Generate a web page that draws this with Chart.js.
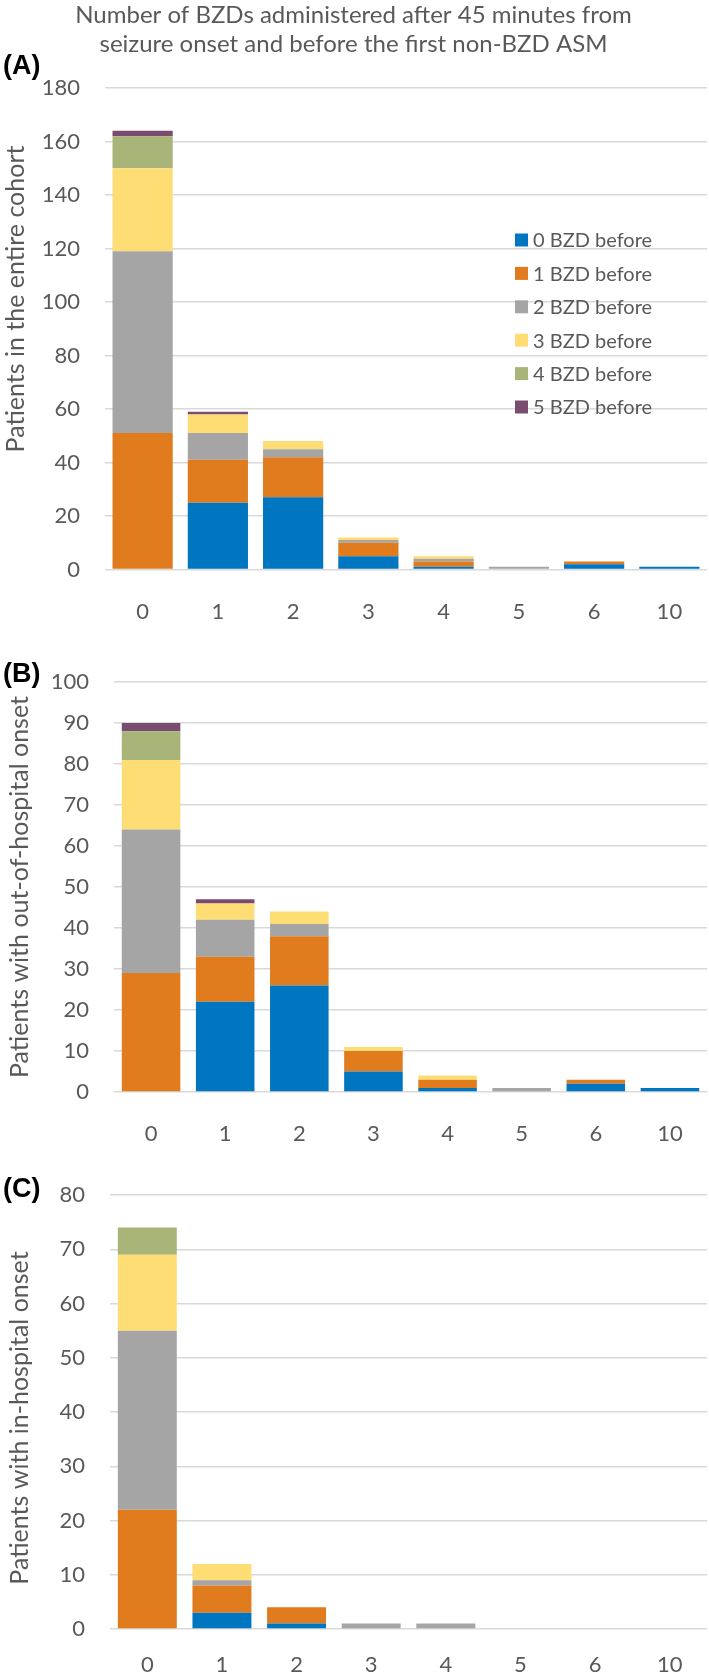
<!DOCTYPE html>
<html>
<head>
<meta charset="utf-8">
<script src="https://cdn.jsdelivr.net/npm/chart.js@4.4.1/dist/chart.umd.min.js"></script>
<style>
  html, body { margin: 0; padding: 0; background: #fff; }
  #page { position: relative; width: 709px; height: 1675px; overflow: hidden; }
  canvas { position: absolute; left: 0; }
  .tag { position: absolute; left: 3px; font: bold 27px "Liberation Sans", Arial, sans-serif; color: #000; line-height: 30px; }
</style>
</head>
<body>
<div id="page">
  <canvas id="chartA" width="709" height="630" style="top:0px"></canvas>
  <canvas id="chartB" width="709" height="505" style="top:640px"></canvas>
  <canvas id="chartC" width="709" height="525" style="top:1150px"></canvas>
  <div class="tag" style="top:50px">(A)</div>
  <div class="tag" style="top:658px">(B)</div>
  <div class="tag" style="top:1173px">(C)</div>
</div>
<script>
// x categories: number of BZDs given after 45 min
const categories = ['0', '1', '2', '3', '4', '5', '6', '10'];
const seriesNames = ['0 BZD before', '1 BZD before', '2 BZD before', '3 BZD before', '4 BZD before', '5 BZD before'];
const seriesColors = ['#0075C0', '#E07B1E', '#A5A5A5', '#FFDD75', '#A9B479', '#7A4D70'];

// (A) entire cohort
const entire0 = [0, 25, 27, 5, 1, 0, 2, 1];
const entire1 = [51, 16, 15, 5, 2, 0, 1, 0];
const entire2 = [68, 10, 3, 1, 1, 1, 0, 0];
const entire3 = [31, 7, 3, 1, 1, 0, 0, 0];
const entire4 = [12, 0, 0, 0, 0, 0, 0, 0];
const entire5 = [2, 1, 0, 0, 0, 0, 0, 0];

// (B) out-of-hospital onset
const outHosp0 = [0, 22, 26, 5, 1, 0, 2, 1];
const outHosp1 = [29, 11, 12, 5, 2, 0, 1, 0];
const outHosp2 = [35, 9, 3, 0, 0, 1, 0, 0];
const outHosp3 = [17, 4, 3, 1, 1, 0, 0, 0];
const outHosp4 = [7, 0, 0, 0, 0, 0, 0, 0];
const outHosp5 = [2, 1, 0, 0, 0, 0, 0, 0];

// (C) in-hospital onset
const inHosp0 = [0, 3, 1, 0, 0, 0, 0, 0];
const inHosp1 = [22, 5, 3, 0, 0, 0, 0, 0];
const inHosp2 = [33, 1, 0, 1, 1, 0, 0, 0];
const inHosp3 = [14, 3, 0, 0, 0, 0, 0, 0];
const inHosp4 = [5, 0, 0, 0, 0, 0, 0, 0];
const inHosp5 = [0, 0, 0, 0, 0, 0, 0, 0];

const titleLines = ['Number of BZDs administered after 45 minutes from', 'seizure onset and before the first non-BZD ASM'];

const FONT = 'Lato, "Open Sans", sans-serif';
const TEXT = '#595959';
const GRID = '#D9D9D9';

// rotated y-axis title, placed like the original
function yTitlePlugin(text, cx, cy) {
  return {
    id: 'yTitle',
    afterDraw(chart) {
      const ctx = chart.ctx;
      ctx.save();
      ctx.translate(cx, cy);
      ctx.rotate(-Math.PI / 2);
      ctx.font = '25px ' + FONT;
      ctx.fillStyle = TEXT;
      ctx.textAlign = 'center';
      ctx.textBaseline = 'middle';
      ctx.fillText(text, 0, 0);
      ctx.restore();
    }
  };
}

// legend drawn inside the plot of panel A
const insideLegend = {
  id: 'insideLegend',
  afterDraw(chart) {
    const ctx = chart.ctx;
    ctx.save();
    ctx.font = '20px ' + FONT;
    ctx.textBaseline = 'middle';
    chart.data.datasets.forEach((ds, i) => {
      const y = 240 + i * 33.4;
      ctx.fillStyle = ds.backgroundColor;
      ctx.fillRect(515, y - 6.5, 13, 13);
      ctx.fillStyle = TEXT;
      ctx.fillText(ds.label, 533, y + 1);
    });
    ctx.restore();
  }
};

function makeChart(id, series, opts) {
  const datasets = series.map((vals, i) => ({
    label: seriesNames[i],
    data: vals,
    backgroundColor: seriesColors[i],
    borderWidth: 0,
    categoryPercentage: opts.catPct,
    barPercentage: 1
  }));
  const plugins = [yTitlePlugin(opts.yTitle, opts.titleX, opts.titleY)];
  if (opts.legend) plugins.push(insideLegend);

  return new Chart(document.getElementById(id), {
    type: 'bar',
    data: { labels: categories, datasets: datasets },
    options: {
      responsive: false,
      animation: false,
      layout: { padding: { top: opts.padTop, right: 2, left: 0, bottom: 0 } },
      plugins: {
        legend: { display: false },
        tooltip: { enabled: false },
        title: opts.title ? {
          display: true,
          text: opts.title,
          color: TEXT,
          font: { family: FONT, size: 24, weight: 'normal', lineHeight: 1.21 },
          padding: { top: 1, bottom: 29 }
        } : { display: false }
      },
      scales: {
        x: {
          stacked: true,
          grid: { display: false },
          border: { display: false },
          ticks: { color: TEXT, font: { family: FONT, size: 22 }, padding: opts.xPad },
          afterFit: s => { s.height = opts.xHeight; }
        },
        y: {
          stacked: true,
          min: 0,
          max: opts.yMax,
          grid: { color: GRID, lineWidth: 1.5, drawTicks: false },
          border: { display: false },
          ticks: { stepSize: opts.yStep, color: TEXT, font: { family: FONT, size: 22 }, padding: 25 },
          afterFit: s => { s.width = opts.yWidth; }
        }
      }
    },
    plugins: plugins
  });
}

makeChart('chartA', [entire0, entire1, entire2, entire3, entire4, entire5], {
  title: titleLines, padTop: 0, xHeight: 60.5, xPad: 21, yWidth: 105, yMax: 180, yStep: 20, catPct: 0.8,
  yTitle: 'Patients in the entire cohort', titleX: 16, titleY: 299, legend: true
});

makeChart('chartB', [outHosp0, outHosp1, outHosp2, outHosp3, outHosp4, outHosp5], {
  title: null, padTop: 42, xHeight: 53, xPad: 21, yWidth: 114, yMax: 100, yStep: 10, catPct: 0.79,
  yTitle: 'Patients with out-of-hospital onset', titleX: 20, titleY: 247, legend: false
});

makeChart('chartC', [inHosp0, inHosp1, inHosp2, inHosp3, inHosp4, inHosp5], {
  title: null, padTop: 45, xHeight: 46, xPad: 15, yWidth: 110, yMax: 80, yStep: 10, catPct: 0.79,
  yTitle: 'Patients with in-hospital onset', titleX: 20, titleY: 268, legend: false
});
</script>
</body>
</html>
